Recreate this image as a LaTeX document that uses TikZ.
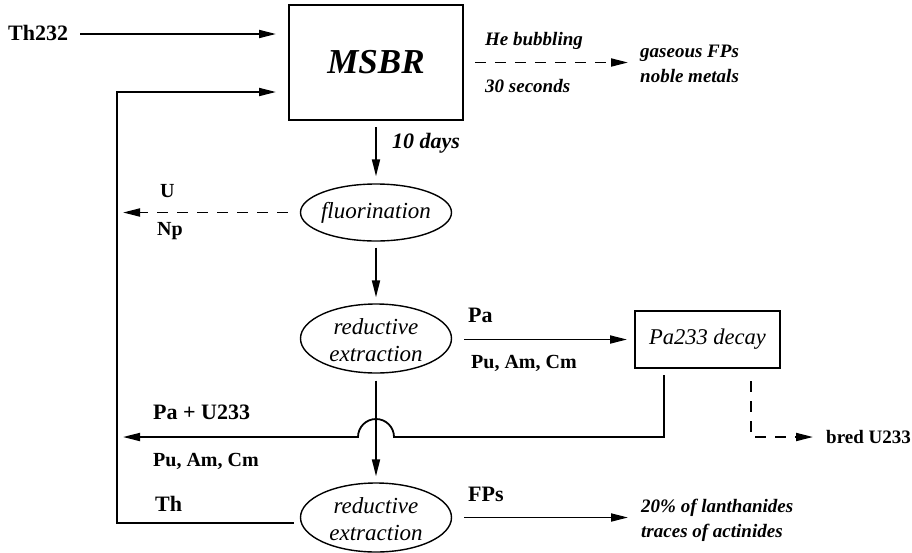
\documentclass[tikz,border=0pt]{standalone}
\usepackage{fontspec}
\setmainfont{Liberation Serif}
\usetikzlibrary{arrows.meta,shapes.geometric}
\tikzset{
  ln/.style={line width=1.8pt},
  arr/.style={ln,-{Triangle[length=17pt,width=8pt]}},
  dsh/.style={dash pattern=on 11pt off 9pt},
  boxn/.style={draw,line width=2pt,inner sep=0pt},
  elln/.style={draw,ellipse,line width=1.4pt,inner sep=0pt,minimum width=151pt},
  lbl/.style={inner sep=0pt,anchor=base west},
  fB/.style={font=\fontsize{22}{26}\selectfont\bfseries},
  fS/.style={font=\fontsize{20}{24}\selectfont\bfseries},
  fBI/.style={font=\fontsize{19}{24}\selectfont\bfseries\itshape},
  fBIb/.style={font=\fontsize{22}{26}\selectfont\bfseries\itshape},
  fI/.style={font=\fontsize{23}{27}\selectfont\itshape,inner sep=0pt,align=center},
}
\begin{document}
\begin{tikzpicture}[x=1pt,y=1pt]
\useasboundingbox (0,0) rectangle (912,-552);
% main nodes
\node[boxn,minimum width=174pt,minimum height=115pt,font=\fontsize{35}{40}\selectfont\bfseries\itshape] (msbr) at (376,-62.5) {MSBR};
\node[elln,minimum height=57pt] (fluor) at (376,-212.5) {};
\node[fI] (fluortxt) at (fluor) {fluorination};
\node[elln,minimum height=69pt] (red1) at (376,-338.5) {};
\node[fI] (red1txt) at ([yshift=-2pt]red1.center) {reductive\\extraction};
\node[elln,minimum height=69pt] (red2) at (376,-517.5) {};
\node[fI] (red2txt) at ([yshift=-2pt]red2.center) {reductive\\extraction};
\node[boxn,minimum width=145pt,minimum height=57pt,font=\fontsize{22.5}{27}\selectfont\itshape] (pa) at (707.5,-339.5) {Pa233 decay};
% coordinates
\coordinate (fbtop) at (117,-92);
\coordinate (fbbot) at (117,-523);
\coordinate (uend) at (123,-212.5);
\coordinate (heend) at (628,-62.5);
\coordinate (pcor) at (664,-437);
\coordinate (hopR) at (394,-437);
\coordinate (retend) at (123,-437);
\coordinate (bcor) at (751,-437);
\coordinate (bend) at (813,-437);
\coordinate (fpend) at (628,-517.5);
% labels
\node[lbl,fB] (th232) at (8,-40) {Th232};
\node[lbl,fBI] (heb) at (485,-45) {He bubbling};
\node[lbl,fBI] (sec) at (485,-92) {30 seconds};
\node[lbl,fBI] (gas) at (640,-57) {gaseous FPs};
\node[lbl,fBI] (nob) at (640,-82) {noble metals};
\node[lbl,fBIb] (days) at (392,-148) {10 days};
\node[lbl,fS] (ulab) at (160,-197) {U};
\node[lbl,fS] (nplab) at (157,-235) {Np};
\node[lbl,fB] (palab) at (468,-322) {Pa};
\node[lbl,fS] (puA) at (471,-368) {Pu, Am, Cm};
\node[lbl,fB] (pau) at (153,-419) {Pa + U233};
\node[lbl,fS] (puB) at (153,-466) {Pu, Am, Cm};
\node[lbl,fB] (thlab) at (155,-511) {Th};
\node[lbl,fB] (fps) at (468,-501) {FPs};
\node[lbl,fBI] (lan) at (641,-512) {20\% of lanthanides};
\node[lbl,fBI] (act) at (641,-537) {traces of actinides};
\node[lbl,font=\fontsize{19}{24}\selectfont\bfseries] (bred) at (826,-443) {bred U233};
% connectors
\draw[arr] ([xshift=12pt]th232.east |- 0,-34) -- ([xshift=-12pt]msbr.west |- 0,-34);
\draw[arr] ([xshift=-6pt]red2.west |- fbbot) -- (fbbot) -- (fbtop) -- ([xshift=-12pt]msbr.west |- fbtop);
\draw[arr,dsh] ([xshift=11pt]msbr.east) -- (heend);
\draw[arr] ([yshift=-6pt]msbr.south) -- ([yshift=7pt]fluor.north);
\draw[arr,dsh] ([xshift=-12pt]fluor.west) -- (uend);
\draw[arr] ([yshift=-6pt]fluor.south) -- ([yshift=6pt]red1.north);
\draw[arr] ([xshift=12pt]red1.east |- pa.west) -- ([xshift=-7pt]pa.west);
\draw[arr] ([yshift=-7pt]red1.south) -- ([yshift=6pt]red2.north);
\draw[arr] ([yshift=-6pt]pa.south -| pcor) -- (pcor) -- (hopR) arc[start angle=0,end angle=180,radius=18] -- (retend);
\draw[arr,dsh] ([yshift=-12pt]pa.south -| bcor) -- (bcor) -- (bend);
\draw[arr] ([xshift=12pt]red2.east) -- (fpend);
\end{tikzpicture}
\end{document}
